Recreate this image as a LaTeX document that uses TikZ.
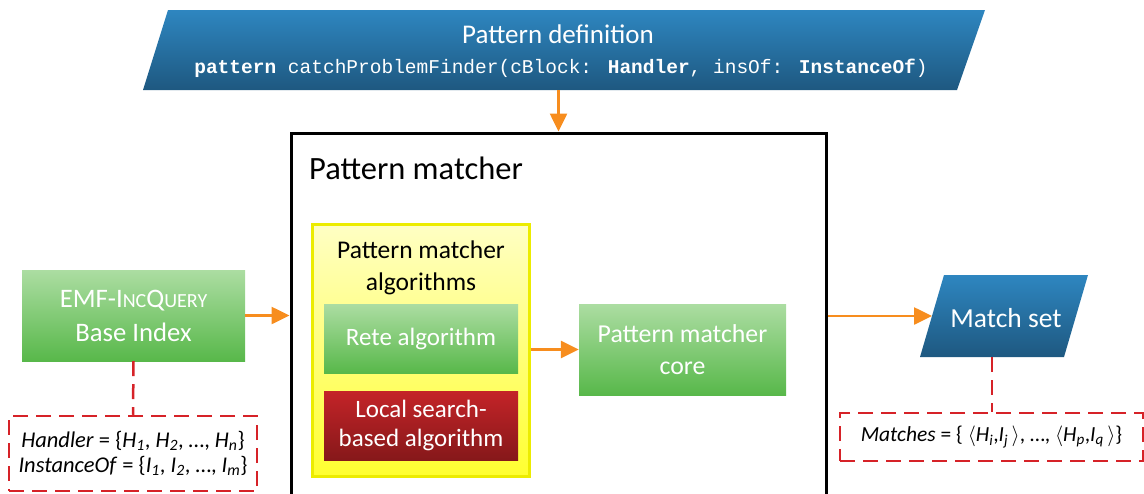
\documentclass[tikz,border=0pt]{standalone}
\usepackage{fontspec}
\setmainfont{Carlito}
\newfontfamily\codefont{Liberation Mono}
\usetikzlibrary{arrows.meta}

\definecolor{blueTop}{RGB}{46,134,192}
\definecolor{blueBot}{RGB}{30,88,128}
\definecolor{greenTop}{RGB}{172,221,162}
\definecolor{greenBot}{RGB}{88,184,74}
\definecolor{redTop}{RGB}{196,36,40}
\definecolor{redBot}{RGB}{134,24,26}
\definecolor{yelTop}{RGB}{255,255,196}
\definecolor{yelBot}{RGB}{255,255,48}
\definecolor{yelLine}{RGB}{236,236,0}
\definecolor{arrOrange}{RGB}{247,141,30}
\definecolor{dashRed}{RGB}{214,34,40}

\tikzset{
  databox/.style={draw=none, top color=blueTop, bottom color=blueBot},
  greenbox/.style={rectangle, draw=none, top color=greenTop, bottom color=greenBot,
    text=white, align=center, inner sep=0pt, font=\fontsize{25}{32}\selectfont},
  redbox/.style={rectangle, draw=none, top color=redTop, bottom color=redBot,
    text=white, align=center, inner sep=0pt, font=\fontsize{25}{29}\selectfont},
  notebox/.style={rectangle, draw=dashRed, line width=2.5pt, dash pattern=on 15pt off 8pt,
    align=center, inner sep=0pt, font=\fontsize{22.5}{25}\selectfont},
  flow/.style={draw=arrOrange, line width=2.6pt, -{Triangle[length=18pt,width=17pt]}},
  notelink/.style={draw=dashRed, line width=2.5pt, dash pattern=on 15pt off 8pt},
}

\newcommand{\smc}[1]{{\fontsize{20}{22}\selectfont #1}}

\begin{document}
\begin{tikzpicture}[x=1pt,y=-1pt]
\clip (0,0) rectangle (1144,493);

% pattern definition
\path[databox] (168,10) -- (985,10) -- (957,90) -- (143,90) -- cycle;
\coordinate (pdbot) at (550,90);
\node[text=white, font=\fontsize{27}{30}\selectfont] (pdtitle) at (558,34) {Pattern definition};
\node[text=white, font=\codefont\fontsize{19.5}{24}\selectfont] (pdcode) at (561,68)
  {\textbf{pattern} catchProblemFinder(cBlock: \textbf{Handler}, insOf: \textbf{InstanceOf})};

% pattern matcher frame
\node[draw=black, line width=3pt, minimum width=535pt, minimum height=430pt, inner sep=0pt]
  (pm) at (558.5,348) {};
\node[anchor=west, font=\fontsize{32.5}{36}\selectfont, inner sep=0pt] (pmtitle) at (309,168) {Pattern matcher};

% algorithms group
\node[draw=yelLine, line width=3pt, top color=yelTop, bottom color=yelBot,
      minimum width=217pt, minimum height=252pt, inner sep=0pt] (alg) at (420.5,350) {};
\node[align=center, font=\fontsize{25.5}{32}\selectfont, inner sep=0pt] (algtitle) at (421,268)
  {Pattern matcher\\algorithms};
\node[greenbox, minimum width=194pt, minimum height=69pt] (rete) at (421,338.5) {Rete algorithm};
\node[redbox, minimum width=194pt, minimum height=69pt] (ls) at (421,425.5)
  {Local search-\\based algorithm};
\node[greenbox, minimum width=207pt, minimum height=91pt, font=\fontsize{25.8}{32}\selectfont]
  (core) at (682.5,349.5) {Pattern matcher\\core};

% base index
\node[greenbox, minimum width=223pt, minimum height=91pt, font=\fontsize{26.7}{34}\selectfont]
  (emf) at (133.5,315.5) {EMF-I\smc{NC}Q\smc{UERY}\\Base Index};
\node[notebox, minimum width=248pt, minimum height=75pt] (emfnote) at (133,453.5)
  {\textit{Handler} = \{\textit{H\textsubscript{1}}, \textit{H\textsubscript{2}}, \dots, \textit{H\textsubscript{n}}\}\\
   \textit{InstanceOf} = \{\textit{I\textsubscript{1}}, \textit{I\textsubscript{2}}, \dots, \textit{I\textsubscript{m}}\}};

% match set
\path[databox] (944,275) -- (1088,275) -- (1064,357) -- (920,357) -- cycle;
\coordinate (msleft) at (932,316);
\coordinate (msbot) at (992,357);
\node[text=white, font=\fontsize{27.5}{30}\selectfont] (mstitle) at (1006,318) {Match set};
\node[notebox, minimum width=303pt, minimum height=48pt, font=\fontsize{21.5}{25}\selectfont]
  (msnote) at (991.5,437)
  {\textit{Matches} = \{ $\Big\langle$\textit{H\textsubscript{i}},\textit{I\textsubscript{j}}\,$\Big\rangle$, \dots,
   $\Big\langle$\textit{H\textsubscript{p}},\textit{I\textsubscript{q}}\,$\Big\rangle$\}};

% connectors
\draw[flow] (pm.north |- pdbot) -- (pm.north);
\draw[flow] (emf.east) -- (pm.west |- emf.east);
\draw[flow] (alg.east |- core.west) -- (core.west);
\draw[flow] (pm.east |- msleft) -- (msleft);
\draw[notelink] (emf.south) -- (emfnote.north);
\draw[notelink] (msbot) -- (msbot |- msnote.north);
\end{tikzpicture}
\end{document}
